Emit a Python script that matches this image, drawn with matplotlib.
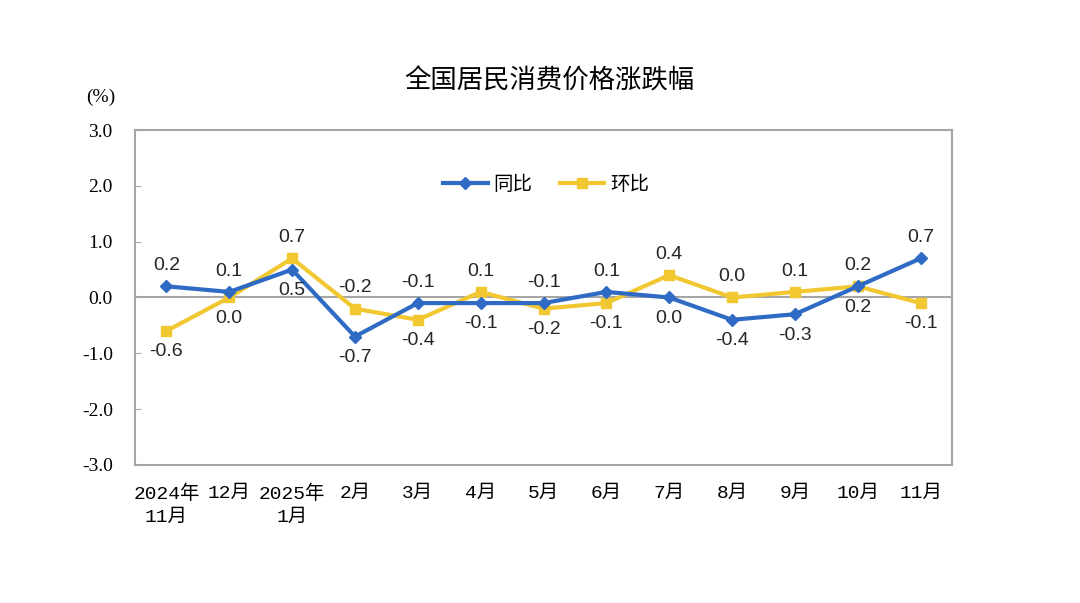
import matplotlib
matplotlib.use("Agg")
import matplotlib.pyplot as plt

plt.rcParams['font.family'] = ['Noto Sans CJK SC', 'DejaVu Sans']

months = ["2024年\n11月", "12月", "2025年\n1月", "2月", "3月", "4月", "5月",
          "6月", "7月", "8月", "9月", "10月", "11月"]
yoy = [0.2, 0.1, 0.5, -0.7, -0.1, -0.1, -0.1, 0.1, 0.0, -0.4, -0.3, 0.2, 0.7]
mom = [-0.6, 0.0, 0.7, -0.2, -0.4, 0.1, -0.2, -0.1, 0.4, 0.0, 0.1, 0.2, -0.1]
# label placement: 1 = above, -1 = below
yoy_pos = [1, 1, -1, -1, 1, -1, 1, 1, -1, -1, -1, 1, 1]
mom_pos = [-1, -1, 1, 1, -1, 1, -1, -1, 1, 1, 1, -1, -1]
yticks = [3.0, 2.0, 1.0, 0.0, -1.0, -2.0, -3.0]

blue = "#2F6BC4"
yellow = "#F2C832"

fig = plt.figure(figsize=(10.8, 6.03), dpi=100)
ax = fig.add_axes([0.125, 0.2289, 0.7565, 0.5555])

x = list(range(len(months)))
ax.axhline(0, color="#A6A6A6", lw=1.5, zorder=1)
ax.plot(x, yoy, color=blue, lw=3, marker="D", ms=6.5, label="同比", zorder=3)
ax.plot(x, mom, color=yellow, lw=3, marker="s", ms=7, label="环比", zorder=2)

for xi, v, p in zip(x, yoy, yoy_pos):
    ax.annotate(f"{v:.1f}", (xi, v), xytext=(0, 15 * p), textcoords="offset points",
                ha="center", va="center", fontsize=14, family=["Liberation Sans"],
                color="#262626")
for xi, v, p in zip(x, mom, mom_pos):
    ax.annotate(f"{v:.1f}", (xi, v), xytext=(0, 15 * p), textcoords="offset points",
                ha="center", va="center", fontsize=14, family=["Liberation Sans"],
                color="#262626")

ax.set_xlim(-0.5, len(months) - 0.5)
ax.set_ylim(-3.0, 3.0)
ax.set_yticks(yticks)
ax.set_yticklabels([f"{t:.1f}" for t in yticks], family=["Liberation Serif"], fontsize=14)
ax.set_xticks(x)
ax.set_xticklabels(months, fontsize=14, family=["Liberation Mono", "Noto Sans CJK SC"],
                   linespacing=1.5)
ax.tick_params(axis="x", length=0, pad=14)
ax.tick_params(axis="y", length=4, direction="in", color="#A6A6A6", pad=16)
for s in ax.spines.values():
    s.set_color("#A6A6A6")
    s.set_linewidth(1.5)

leg = ax.legend(loc="upper center", bbox_to_anchor=(0.503, 0.92), ncol=2, frameon=False,
                fontsize=14, handlelength=2.3, columnspacing=1.4, handletextpad=0.3)

fig.text(0.509, 0.866, "全国居民消费价格涨跌幅", ha="center", va="center", fontsize=19)
fig.text(0.093, 0.838, "(%)", ha="center", va="center", fontsize=14, family=["Liberation Serif"])

fig.savefig("out.png", dpi=100)
